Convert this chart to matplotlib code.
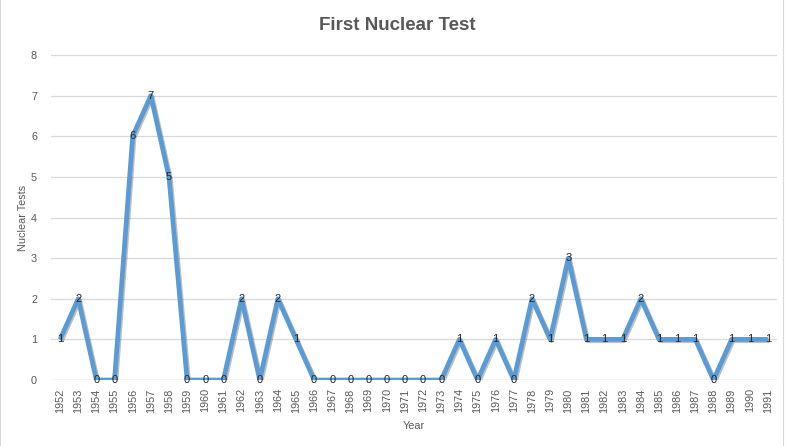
import matplotlib.pyplot as plt
import matplotlib.patheffects as pe
from matplotlib.patches import Rectangle

plt.rcParams['font.family'] = ['Liberation Sans', 'DejaVu Sans']

# data
years = list(range(1952, 1992))
tests = [1, 2, 0, 0, 6, 7, 5, 0, 0, 0,
         2, 0, 2, 1, 0, 0, 0, 0, 0, 0,
         0, 0, 1, 0, 1, 0, 2, 1, 3, 1,
         1, 1, 2, 1, 1, 1, 0, 1, 1, 1]

grey = '#595959'

fig = plt.figure(figsize=(7.94, 4.46), dpi=100)
ax = fig.add_axes([51 / 794, 1 - 380 / 446, 726 / 794, 325 / 446])

xs = list(range(len(years)))
ax.plot(xs, tests, color='#5B9BD5', lw=3.4, solid_joinstyle='round', solid_capstyle='butt', zorder=3,
        path_effects=[pe.SimpleLineShadow(offset=(1, -1), alpha=0.25), pe.Normal()])

for x, v in zip(xs, tests):
    ax.text(x, v, str(v), ha='center', va='center', fontsize=8, color='#262626', zorder=4)

ax.set_xlim(-0.5, len(years) - 0.5)
ax.set_ylim(0, 8)
ax.set_yticks(range(0, 9))
ax.set_xticks(xs)
ax.set_xticklabels([str(y) for y in years], rotation=90)
ax.tick_params(axis='both', length=0, labelsize=7.8, colors=grey)
ax.tick_params(axis='x', pad=6)
ax.tick_params(axis='y', pad=10)
ax.grid(axis='y', color='#D9D9D9', lw=0.9)
ax.set_axisbelow(True)
for s in ax.spines.values():
    s.set_visible(False)
ax.axhline(0, color='#D9D9D9', lw=0.9, zorder=1)

ax.set_ylabel('Nuclear Tests', fontsize=7.8, color=grey)
ax.yaxis.set_label_coords(-(51 - 28) / 726, 0.5)
ax.set_xlabel('Year', fontsize=7.8, color=grey, labelpad=6)

fig.text(397 / 794, 1 - 25 / 446, 'First Nuclear Test', ha='center', va='center',
         fontsize=13.5, fontweight='bold', color=grey)

# chart border
fig.patches.append(Rectangle((0, -0.01), 783 / 794, 1.02, transform=fig.transFigure,
                             fill=False, edgecolor='#D9D9D9', lw=0.8))

fig.savefig('out.png', dpi=100)
